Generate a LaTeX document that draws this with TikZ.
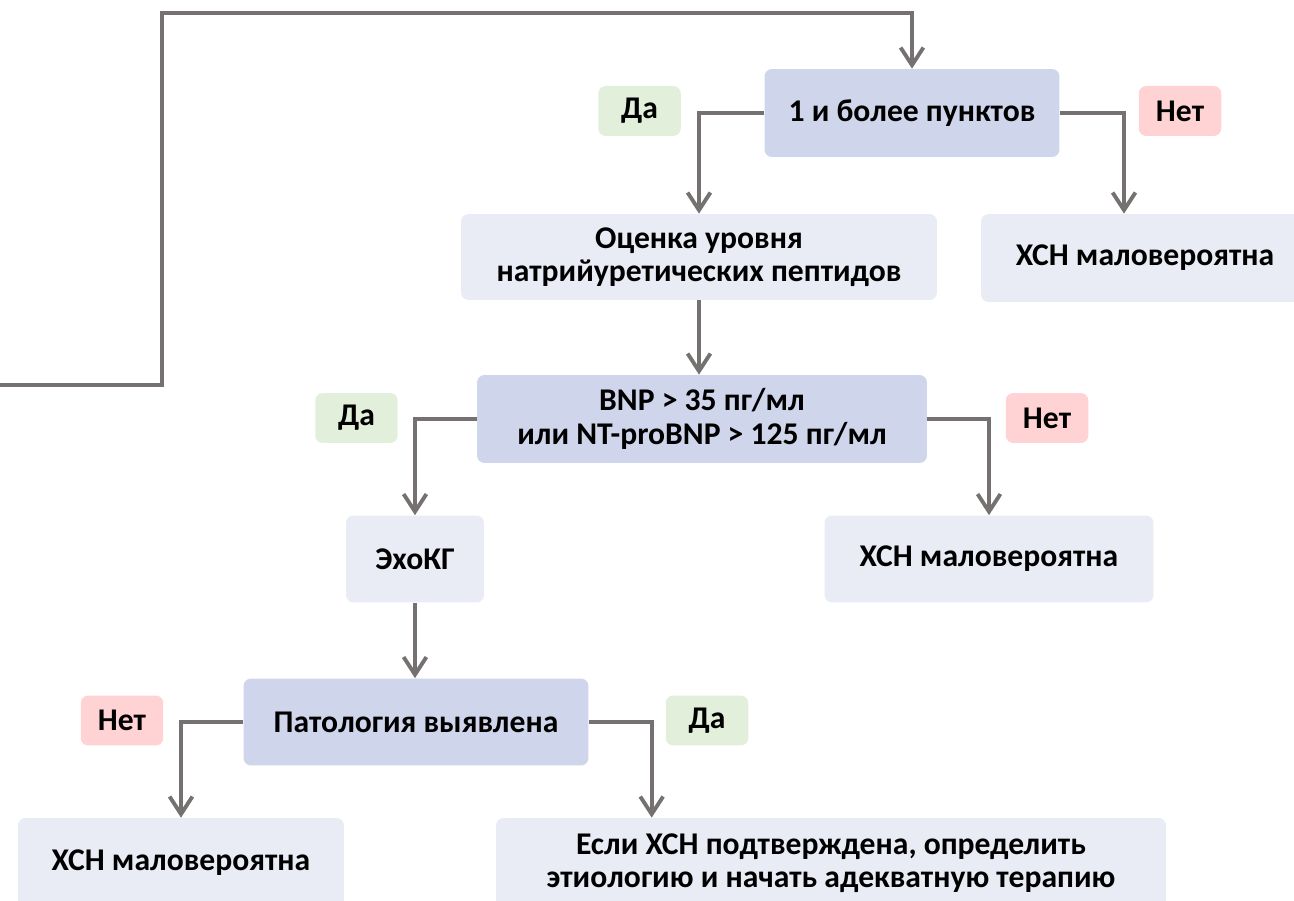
\documentclass[tikz,border=0pt]{standalone}
\usepackage{fontspec}
\setmainfont{Carlito}
\usetikzlibrary{arrows.meta}
\definecolor{boxdark}{HTML}{CFD5EA}
\definecolor{boxlight}{HTML}{E9EBF5}
\definecolor{yesgreen}{HTML}{E2EFDA}
\definecolor{nored}{HTML}{FFD3D3}
\definecolor{linegray}{HTML}{767171}
\begin{document}
\begin{tikzpicture}[x=0.02cm,y=-0.02cm,
    every node/.style={font=\fontsize{18}{19}\selectfont\bfseries,align=center,inner sep=0pt,rounded corners=0.15cm},
    dark/.style={fill=boxdark},
    light/.style={fill=boxlight},
    yes/.style={fill=yesgreen,minimum width=1.65cm,minimum height=1cm},
    no/.style={fill=nored,minimum width=1.65cm,minimum height=1cm},
    arr/.style={-{Straight Barb[length=10pt,width=13pt]},draw=linegray,line width=2.2pt}]
        \clip (0,0) rectangle (1294,901);
        \node[dark,minimum width=5.9cm,minimum height=1.76cm] (crit) at (912,113) {1 и более пунктов};
        \node[light,minimum width=9.52cm,minimum height=1.72cm] (peptide) at (699,257) {Оценка уровня\\натрийуретических пептидов};
        \node[light,minimum width=6.56cm,minimum height=1.76cm] (unlikelyA) at (1145,258) {ХСН маловероятна};
        \node[dark,minimum width=9cm,minimum height=1.76cm] (bnp) at (702,419) {BNP > 35 пг/мл\\или NT-proBNP > 125 пг/мл};
        \node[light,minimum width=2.76cm,minimum height=1.74cm] (echo) at (415,559) {ЭхоКГ};
        \node[light,minimum width=6.58cm,minimum height=1.74cm] (unlikelyB) at (989,559) {ХСН маловероятна};
        \node[dark,minimum width=6.9cm,minimum height=1.74cm] (patol) at (416,722) {Патология выявлена};
        \node[light,minimum width=6.52cm,minimum height=1.8cm] (unlikelyC) at (181,863) {ХСН маловероятна};
        \node[light,minimum width=13.4cm,minimum height=1.8cm] (therapy) at (831,863) {Если ХСН подтверждена, определить\\этиологию и начать адекватную терапию};
        % yes / no labels
        \node[yes] (yesA) at (639.5,111) {Да};
        \node[no] (noA) at (1180,111) {Нет};
        \node[yes] (yesB) at (356.5,418) {Да};
        \node[no] (noB) at (1047,418) {Нет};
        \node[no] (noC) at (122,720.5) {Нет};
        \node[yes] (yesC) at (707,720.5) {Да};
        % connectors
        \coordinate (start) at (0,385);
        \coordinate (loop) at (162,13);
        \draw[arr] (start) -| (loop) -| (crit.north);
        \draw[arr] (crit.west) -| (peptide.north);
        \draw[arr] (crit.east) -| ([xshift=-0.42cm]unlikelyA.north);
        \draw[arr] (peptide.south) -- (peptide.south |- bnp.north);
        \draw[arr] (bnp.west) -| (echo.north);
        \draw[arr] (bnp.east) -| (unlikelyB.north);
        \draw[arr] (echo.south) -- (echo.south |- patol.north);
        \draw[arr] (patol.west) -| (unlikelyC.north);
        \draw[arr] (patol.east) -| ([xshift=3.12cm]therapy.north west);
    \end{tikzpicture}
\end{document}
